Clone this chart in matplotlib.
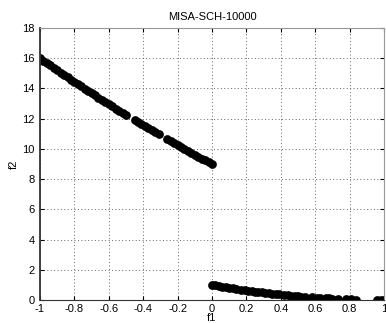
import numpy as np
import matplotlib.pyplot as plt
import matplotlib as mpl

mpl.rcParams['font.family'] = ['Liberation Sans', 'DejaVu Sans']

# 上支 (f1 in [-1, 0])
f1_upper = [-1.00, -0.98, -0.96, -0.94, -0.92, -0.90, -0.88, -0.86, -0.84, -0.82,
            -0.80, -0.78, -0.76, -0.74, -0.72, -0.70, -0.68, -0.66, -0.64, -0.62,
            -0.60, -0.58, -0.56, -0.54, -0.52, -0.50, -0.45, -0.43, -0.41, -0.39,
            -0.37, -0.35, -0.33, -0.31, -0.26, -0.24, -0.22, -0.20, -0.18, -0.16,
            -0.14, -0.12, -0.10, -0.08, -0.06, -0.04, -0.02, 0.00]
f2_upper = [16.00, 15.84, 15.68, 15.52, 15.37, 15.21, 15.05, 14.90, 14.75, 14.59,
            14.44, 14.29, 14.14, 13.99, 13.84, 13.69, 13.54, 13.40, 13.25, 13.10,
            12.96, 12.82, 12.67, 12.53, 12.39, 12.25, 11.90, 11.76, 11.63, 11.49,
            11.36, 11.22, 11.09, 10.96, 10.63, 10.50, 10.37, 10.24, 10.11, 9.99,
            9.86, 9.73, 9.61, 9.49, 9.36, 9.24, 9.12, 9.00]

# 下支 (f1 in [0, 1])
f1_lower = [0.00, 0.02, 0.04, 0.06, 0.08, 0.10, 0.12, 0.14, 0.17, 0.19,
            0.21, 0.23, 0.25, 0.27, 0.29, 0.31, 0.33, 0.35, 0.37, 0.39,
            0.42, 0.44, 0.46, 0.48, 0.50, 0.52, 0.54, 0.58, 0.61, 0.63,
            0.66, 0.68, 0.70, 0.73, 0.78, 0.81, 0.84, 0.96, 0.98, 1.00]
f2_lower = [1.00, 0.96, 0.92, 0.88, 0.85, 0.81, 0.77, 0.74, 0.69, 0.66,
            0.62, 0.59, 0.56, 0.53, 0.50, 0.48, 0.45, 0.42, 0.40, 0.37,
            0.34, 0.31, 0.29, 0.27, 0.25, 0.23, 0.21, 0.18, 0.15, 0.14,
            0.12, 0.10, 0.09, 0.07, 0.05, 0.04, 0.03, 0.00, 0.00, 0.00]

x_ticks = [-1, -0.8, -0.6, -0.4, -0.2, 0, 0.2, 0.4, 0.6, 0.8, 1]
x_labels = ['-1', '-0.8', '-0.6', '-0.4', '-0.2', '0', '0.2', '0.4', '0.6', '0.8', '1']
y_ticks = [0, 2, 4, 6, 8, 10, 12, 14, 16, 18]

fig = plt.figure(figsize=(3.86, 3.23), dpi=100)
ax = fig.add_axes([0.1036, 0.0712, 0.8912, 0.8421])

ax.plot(f1_upper, f2_upper, 'o', color='black', markersize=6.3, markeredgewidth=0)
ax.plot(f1_lower, f2_lower, 'o', color='black', markersize=6.3, markeredgewidth=0)

ax.set_xlim(-1, 1)
ax.set_ylim(0, 18)
ax.set_xticks(x_ticks)
ax.set_xticklabels(x_labels)
ax.set_yticks(y_ticks)
ax.tick_params(direction='in', top=True, right=True, labelsize=8, length=3)
ax.tick_params(axis='x', pad=3)
ax.tick_params(axis='y', pad=4)
ax.grid(True, color='#666666', linewidth=0.7, dashes=(1, 2.5))
ax.set_axisbelow(True)

for s in ['left', 'bottom']:
    ax.spines[s].set_color('#333333')
ax.spines['left'].set_linewidth(1.3)
for s in ['top', 'right']:
    ax.spines[s].set_color('#999999')

ax.set_title('MISA-SCH-10000', fontsize=8, pad=6)
ax.set_xlabel('f1', fontsize=8, labelpad=-1)
ax.set_ylabel('f2', fontsize=8, labelpad=2)

fig.savefig('out.png', dpi=100)
